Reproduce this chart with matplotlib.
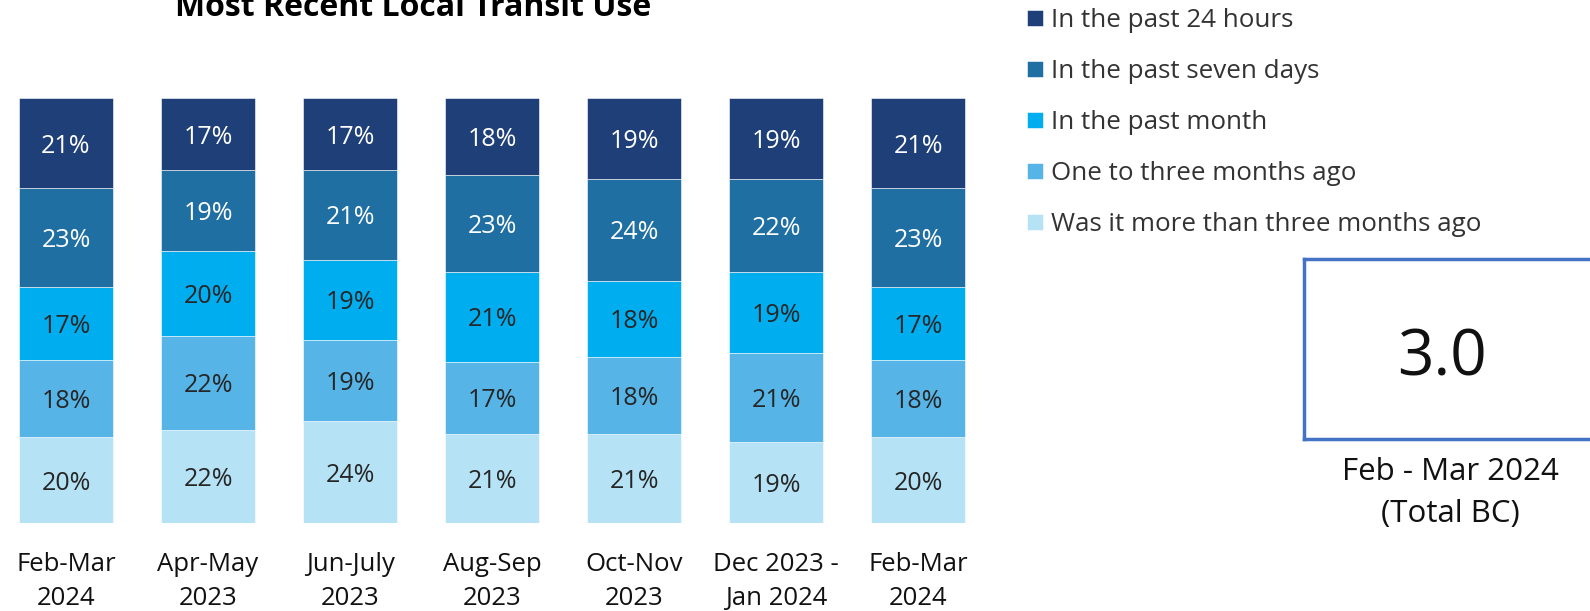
import numpy as np
import matplotlib
matplotlib.use("Agg")
import matplotlib.pyplot as plt

plt.rcParams['font.family'] = ['Open Sans', 'DejaVu Sans']

periods = ["Feb-Mar\n2024", "Apr-May\n2023", "Jun-July\n2023", "Aug-Sep\n2023",
           "Oct-Nov\n2023", "Dec 2023 -\nJan 2024", "Feb-Mar\n2024"]

# bottom to top of each stack
categories = ["Was it more than three months ago", "One to three months ago",
              "In the past month", "In the past seven days", "In the past 24 hours"]
more_than_three = [20, 22, 24, 21, 21, 19, 20]
one_to_three = [18, 22, 19, 17, 18, 21, 18]
past_month = [17, 20, 19, 21, 18, 19, 17]
past_seven_days = [23, 19, 21, 23, 24, 22, 23]
past_24_hours = [21, 17, 17, 18, 19, 19, 21]

total_bc_value = "3.0"
total_bc_label = "Feb - Mar 2024\n(Total BC)"

colors = ["#B5E3F5", "#56B4E6", "#00AEEF", "#1F6FA3", "#1F3F78"]
text_colors = ["#262626", "#262626", "#262626", "white", "white"]

series = np.array([more_than_three, one_to_three, past_month, past_seven_days, past_24_hours], dtype=float)
shares = series / series.sum(axis=0) * 100  # 100% stacked

W, H = 1590, 611
fig = plt.figure(figsize=(W / 100, H / 100), dpi=100)

ax = fig.add_axes([0, 88 / H, 1000 / W, 425 / H])
x = np.arange(len(periods))
bottom = np.zeros(len(periods))
bars = []
for i in range(len(categories)):
    b = ax.bar(x, shares[i], 0.66, bottom=bottom, color=colors[i], label=categories[i],
               edgecolor="white", linewidth=0.4)
    bars.append(b)
    for xi, h, bt, v in zip(x, shares[i], bottom, series[i]):
        ax.text(xi, bt + h / 2, f"{int(v)}%", ha="center", va="center_baseline",
                fontsize=18, color=text_colors[i])
    bottom += shares[i]

ax.set_xlim(-66 / 142, (1000 - 66) / 142)
ax.set_ylim(0, 100)
ax.set_xticks(x)
ax.set_xticklabels(periods, fontsize=18.5, color="#111111", linespacing=1.45)
ax.tick_params(axis="x", length=0, pad=21)
ax.set_yticks([])
for s in ax.spines.values():
    s.set_visible(False)

fig.text(413 / W, 1 - 16 / H, "Most Recent Local Transit Use", ha="center", va="baseline",
         fontsize=23, fontweight="bold", color="black")

handles = [bars[i] for i in range(len(categories) - 1, -1, -1)]
labels = [categories[i] for i in range(len(categories) - 1, -1, -1)]
fig.legend(handles, labels, loc="upper left", bbox_to_anchor=(1017 / W, 1 + 2 / H),
           frameon=False, fontsize=18.7, labelcolor="#333333", handlelength=0.6,
           handleheight=0.6, handletextpad=0.3, labelspacing=1.0, borderaxespad=0)

# KPI box
box = fig.add_axes([1304 / W, (H - 439) / H, 320 / W, 180 / H])
box.set_xticks([])
box.set_yticks([])
for s in box.spines.values():
    s.set_color("#4472C4")
    s.set_linewidth(2.5)
fig.text(1442 / W, 1 - 358 / H, total_bc_value, ha="center", va="center", fontsize=46, color="#111111")
fig.text(1450 / W, 1 - 493 / H, total_bc_label, ha="center", va="center", fontsize=22.5,
         color="#111111", linespacing=1.5)

fig.savefig("out.png", dpi=100)
